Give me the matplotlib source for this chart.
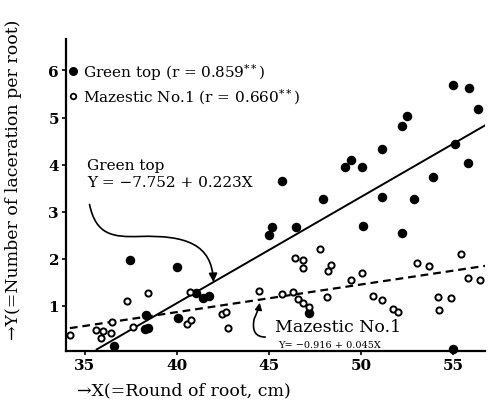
import matplotlib
matplotlib.use("Agg")
import matplotlib.pyplot as plt
from matplotlib.path import Path
from matplotlib.patches import FancyArrowPatch

# Green top (filled circles)
green_x = [55.02, 55.89, 56.36, 52.48, 52.24, 51.16, 55.11, 49.47, 49.15, 50.07,
           55.83, 45.69, 53.91, 51.13, 52.86, 47.95, 45.16, 44.98, 46.45, 50.12,
           52.24, 47.19, 55.02, 37.45, 39.98, 38.32, 38.26, 38.44, 40.07, 41.03,
           41.43, 41.76, 36.58]
green_y = [5.70, 5.63, 5.18, 5.04, 4.82, 4.32, 4.44, 4.09, 3.95, 3.94,
           4.03, 3.66, 3.74, 3.30, 3.27, 3.26, 2.68, 2.50, 2.67, 2.70,
           2.55, 0.84, 0.07, 1.96, 1.83, 0.79, 0.50, 0.52, 0.73, 1.27,
           1.16, 1.21, 0.15]

# Mazestic No.1 (open circles)
maz_x = [34.18, 35.60, 35.85, 35.99, 36.40, 36.45, 37.30, 38.44, 37.63, 40.71,
         40.56, 40.74, 42.43, 42.66, 42.79, 44.46, 45.72, 46.32, 46.59, 46.85,
         47.19, 47.77, 46.41, 46.83, 46.83, 48.37, 48.22, 48.17, 49.46, 50.04,
         53.03, 53.71, 55.42, 55.80, 56.47, 50.67, 51.16, 51.76, 52.03, 54.20,
         54.89, 54.26]
maz_y = [0.38, 0.47, 0.31, 0.45, 0.42, 0.65, 1.10, 1.26, 0.55, 1.29,
         0.61, 0.70, 0.82, 0.87, 0.52, 1.32, 1.25, 1.29, 1.14, 1.05,
         0.98, 2.21, 2.01, 1.96, 1.80, 1.87, 1.73, 1.19, 1.55, 1.70,
         1.91, 1.85, 2.10, 1.58, 1.55, 1.20, 1.12, 0.93, 0.87, 1.18,
         1.16, 0.91]

# regression lines as they are drawn (intercept, slope) and x range
green_fit = (-7.98, 0.2258)
green_span = (35.64, 56.92)
maz_fit = (-1.487, 0.0587)
maz_span = (34.18, 56.83)

serif = ["DejaVu Serif"]
plt.rcParams["font.family"] = serif
plt.rcParams["mathtext.fontset"] = "dejavuserif"

fig = plt.figure(figsize=(4.95, 4.14), dpi=100)
ax = fig.add_axes([0.1333, 0.1505, 0.8465, 0.7529])

ax.scatter(green_x, green_y, s=34, color="black", zorder=3, clip_on=False)
ax.scatter(maz_x, maz_y, s=20, facecolor="white", edgecolor="black",
           linewidth=1.4, zorder=3, clip_on=False)

gx = list(green_span)
ax.plot(gx, [green_fit[0] + green_fit[1] * v for v in gx], color="black", lw=1.4)
mx = list(maz_span)
ax.plot(mx, [maz_fit[0] + maz_fit[1] * v for v in mx], color="black", lw=1.6,
        dashes=(3.5, 2.2))

ax.set_xlim(33.97, 56.74)
ax.set_ylim(0.04, 6.67)
ax.set_xticks([35, 40, 45, 50, 55])
ax.set_yticks([1, 2, 3, 4, 5, 6])
for s in ["top", "right"]:
    ax.spines[s].set_visible(False)
for s in ["left", "bottom"]:
    ax.spines[s].set_linewidth(1.6)
ax.tick_params(direction="out", length=3, width=1.2, labelsize=11, pad=2)
for lab in ax.get_xticklabels() + ax.get_yticklabels():
    lab.set_fontweight("bold")

# legend drawn by hand
ax.scatter([0.017], [0.897], s=30, color="black", transform=ax.transAxes, clip_on=False)
ax.text(0.041, 0.897, "Green top (r = 0.859$^{**}$)", transform=ax.transAxes,
        fontsize=11, va="center", ha="left")
ax.scatter([0.017], [0.817], s=16, facecolor="white", edgecolor="black",
           linewidth=1.3, transform=ax.transAxes, clip_on=False)
ax.text(0.041, 0.817, "Mazestic No.1 (r = 0.660$^{**}$)", transform=ax.transAxes,
        fontsize=11, va="center", ha="left")

# Green top annotation
ax.text(0.05, 0.596, "Green top", transform=ax.transAxes, fontsize=11,
        va="center", ha="left")
ax.text(0.05, 0.542, "Y = \u22127.752 + 0.223X", transform=ax.transAxes,
        fontsize=11, va="center", ha="left")
verts = [(35.25, 3.15), (35.6, 2.5), (36.5, 2.45), (38.0, 2.47),
         (40.5, 2.5), (41.9, 2.3), (41.98, 1.5)]
codes = [Path.MOVETO] + [Path.CURVE4] * 6
ax.add_patch(FancyArrowPatch(path=Path(verts, codes), arrowstyle="-|>,head_length=5,head_width=2.5",
                             color="black", lw=1.2))

# Mazestic annotation
ax.text(0.499, 0.079, "Mazestic No.1", transform=ax.transAxes, fontsize=12.5,
        va="center", ha="left")
ax.text(0.507, 0.021, "Y= \u22120.916 + 0.045X", transform=ax.transAxes,
        fontsize=7, va="center", ha="left")
verts2 = [(44.8, 0.33), (44.3, 0.33), (44.05, 0.45), (44.2, 0.72), (44.35, 0.85),
          (44.45, 0.95), (44.5, 1.06)]
ax.add_patch(FancyArrowPatch(path=Path(verts2, [Path.MOVETO] + [Path.CURVE4] * 6),
                             arrowstyle="-|>,head_length=4,head_width=2",
                             color="black", lw=1.2))

fig.text(0.155, 0.055, "\u2192X(=Round of root, cm)", fontsize=12.5, ha="left", va="center")
fig.text(0.028, 0.565, "\u2192Y(=Number of laceration per root)", fontsize=12.5,
         rotation=90, ha="center", va="center")

fig.savefig("out.png", dpi=100)
